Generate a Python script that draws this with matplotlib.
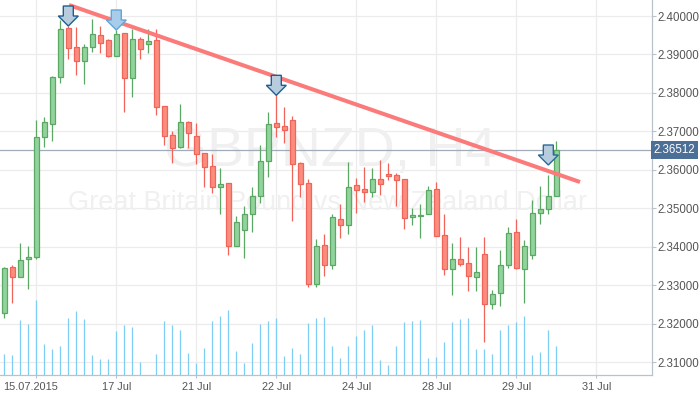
import matplotlib
matplotlib.use("Agg")
import matplotlib.pyplot as plt
import matplotlib.transforms as mtransforms
from matplotlib.patches import Rectangle, Polygon
import numpy as np

plt.rcParams['font.family'] = ['Liberation Sans', 'DejaVu Sans']

# ---------------- data ----------------
opens = [2.32274, 2.33469, 2.33225, 2.33677, 2.33729, 2.36848, 2.37186, 2.38423, 2.39680, 2.39202,
         2.38838, 2.39202, 2.39498, 2.39368, 2.38953, 2.39550, 2.38381, 2.39394, 2.39265, 2.39368,
         2.37653, 2.36900, 2.36588, 2.37238, 2.36874, 2.36432, 2.36094, 2.35548, 2.35652, 2.34015,
         2.34431, 2.34847, 2.35314, 2.36224, 2.37212, 2.37134, 2.37289, 2.36172, 2.35652, 2.33027,
         2.34041, 2.33521, 2.34717, 2.34561, 2.35600, 2.35496, 2.35418, 2.35756, 2.35886, 2.35860,
         2.35756, 2.34769, 2.34810, 2.34847, 2.35496, 2.34301, 2.33417, 2.33677, 2.33573, 2.33209,
         2.33807, 2.32508, 2.32794, 2.33521, 2.34379, 2.33417, 2.33781, 2.34873, 2.34977, 2.35314]
highs = [2.33485, 2.33521, 2.34093, 2.34023, 2.37297, 2.37383, 2.38441, 2.39896, 2.39740, 2.39722,
         2.39272, 2.39914, 2.39740, 2.39394, 2.39636, 2.39566, 2.39654, 2.39446, 2.39654, 2.39654,
         2.37653, 2.37004, 2.37705, 2.37279, 2.37212, 2.36432, 2.36406, 2.36042, 2.35652, 2.34795,
         2.35055, 2.35548, 2.36640, 2.37497, 2.38095, 2.37627, 2.37393, 2.36198, 2.35756, 2.34197,
         2.34327, 2.34847, 2.35107, 2.36198, 2.35782, 2.36068, 2.36042, 2.36250, 2.36172, 2.35912,
         2.35756, 2.35003, 2.35107, 2.35574, 2.35678, 2.34847, 2.34093, 2.34249, 2.33989, 2.33989,
         2.34249, 2.32872, 2.33919, 2.34509, 2.34717, 2.34171, 2.35211, 2.35574, 2.35860, 2.36744]
lows = [2.32144, 2.32549, 2.33209, 2.32898, 2.33677, 2.36603, 2.36759, 2.38267, 2.38890, 2.38475,
        2.38225, 2.39072, 2.39046, 2.38935, 2.38953, 2.37513, 2.37903, 2.38890, 2.39031, 2.37435,
        2.36648, 2.36188, 2.36562, 2.36562, 2.36162, 2.35564, 2.35408, 2.34847, 2.33797, 2.34015,
        2.33703, 2.34379, 2.35133, 2.35808, 2.36848, 2.36692, 2.34665, 2.35288, 2.32950, 2.32950,
        2.33235, 2.33417, 2.34223, 2.34327, 2.34873, 2.35159, 2.35288, 2.35340, 2.35730, 2.35055,
        2.34457, 2.34561, 2.34223, 2.34847, 2.34275, 2.33261, 2.32742, 2.33495, 2.32846, 2.32846,
        2.31536, 2.32378, 2.32456, 2.33443, 2.33417, 2.32534, 2.33677, 2.34587, 2.34847, 2.35314]
closes = [2.33443, 2.33225, 2.33659, 2.33729, 2.36848, 2.37253, 2.38423, 2.39654, 2.39176, 2.38838,
          2.39202, 2.39524, 2.39306, 2.38953, 2.39524, 2.38381, 2.39394, 2.39135, 2.39343, 2.37627,
          2.36874, 2.36562, 2.37238, 2.36952, 2.36406, 2.36068, 2.35548, 2.35626, 2.34015, 2.34639,
          2.34847, 2.35314, 2.36224, 2.37186, 2.37108, 2.37030, 2.36146, 2.35626, 2.33027, 2.34015,
          2.33521, 2.34769, 2.34561, 2.35548, 2.35470, 2.35418, 2.35756, 2.35626, 2.35834, 2.35730,
          2.34743, 2.34821, 2.34821, 2.35470, 2.34275, 2.33417, 2.33677, 2.33547, 2.33235, 2.33339,
          2.32508, 2.32768, 2.33521, 2.34353, 2.33443, 2.34015, 2.34873, 2.34977, 2.35314, 2.36512]
volumes = [21, 20, 55, 51, 75, 31, 26, 29, 57, 64,
           56, 20, 16, 16, 44, 50, 48, 13, 0, 21,
           54, 50, 45, 22, 12, 27, 54, 59, 65, 24,
           12, 32, 51, 54, 57, 19, 27, 21, 52, 57,
           58, 29, 17, 29, 39, 45, 50, 15, 10, 29,
           53, 54, 55, 17, 18, 33, 53, 56, 57, 26,
           26, 21, 45, 50, 53, 59, 20, 23, 45, 29]

x_tick_pos = [4, 14, 24, 34, 44, 54, 64, 74]
x_tick_labels = ['15.07.2015', '17 Jul', '21 Jul', '22 Jul', '24 Jul', '28 Jul', '29 Jul', '31 Jul']
y_ticks = [2.31, 2.32, 2.33, 2.34, 2.35, 2.36, 2.37, 2.38, 2.39, 2.40]
current_price = 2.36512

trend_x = [8.09, 71.96]
trend_y = [2.40286, 2.35686]

arrow_idx = [8, 14, 34, 68]
arrow_tip = [2.39740, 2.39636, 2.37939, 2.36128]

symbol_text = 'GBPNZD, H4'
desc_text = 'Great Britain Pound vs New Zealand Dollar'

# ---------------- figure ----------------
W, H = 700, 394
fig = plt.figure(figsize=(W / 100, H / 100), dpi=100)
ax = fig.add_axes([0, 19 / H, 652 / W, 375 / H])
ax.set_xlim(-0.5375, 80.96)
ax.set_ylim(2.30671, 2.404158)
ax.set_axisbelow(True)

ax.grid(True, color='#ececec', lw=0.9)
for s in ['left', 'top']:
    ax.spines[s].set_visible(False)
for s in ['right', 'bottom']:
    ax.spines[s].set_color('#b8c2cc')
    ax.spines[s].set_linewidth(0.9)

ax.yaxis.tick_right()
ax.set_yticks(y_ticks)
ax.set_yticklabels(['%.5f' % v for v in y_ticks])
ax.tick_params(axis='y', length=2.8, width=0.8, color='#b8c2cc', pad=1.2,
               labelsize=8.3, labelcolor='#555555')
ax.set_xticks(x_tick_pos)
ax.set_xticklabels(x_tick_labels)
ax.tick_params(axis='x', length=2.5, width=0.8, color='#b8c2cc', pad=2.2,
               labelsize=7.9, labelcolor='#555555')
first = ax.get_xticklabels()[0]
first.set_transform(first.get_transform() +
                    mtransforms.ScaledTranslation(-6 / 100, 0, fig.dpi_scale_trans))

# watermark
ax.text(0.506, 0.594, symbol_text, transform=ax.transAxes, ha='center', va='center',
        fontsize=40, color='#f0f0f0', zorder=0.6)
ax.text(0.502, 0.458, desc_text, transform=ax.transAxes, ha='center', va='center',
        fontsize=19.5, color='#f0f0f0', zorder=0.6)

# volume
idx = np.arange(len(opens))
vol_tr = mtransforms.blended_transform_factory(ax.transData, ax.transAxes)
ax.vlines(idx, 0, np.array(volumes) / 375.0, transform=vol_tr, color='#7ecdf4',
          lw=0.9, zorder=1)

# current price line
ax.axhline(current_price, color='#a0acb8', lw=0.9, zorder=1.5)

# candles
bw = 0.55
for i, (o, h, l, c) in enumerate(zip(opens, highs, lows, closes)):
    up = c >= o
    face = '#92d39d' if up else '#fc8d7e'
    edge = '#5aa864' if up else '#f0645a'
    ax.vlines(i, l, h, color=edge, lw=0.9, zorder=2)
    lo, hi = min(o, c), max(o, c)
    ax.add_patch(Rectangle((i - bw / 2, lo), bw, max(hi - lo, 0.00004),
                           facecolor=face, edgecolor=edge, lw=0.9, zorder=2.1))

# trend line
ax.plot(trend_x, trend_y, color='#fb7a7a', lw=2.9, solid_capstyle='butt', zorder=3)

# arrows (pixel shape anchored at data tip)
shape_px = [(-5, 20), (5, 20), (5, 10), (10, 10), (0, 0), (-10, 10), (-5, 10)]
styles = [('#b7cddd', '#1e5f93'), ('#a7cdea', '#62a6d8'),
          ('#b7cddd', '#1e5f93'), ('#b7cddd', '#2a6a9a')]
for (xi, tp), (fc, ec) in zip(zip(arrow_idx, arrow_tip), styles):
    tr = fig.dpi_scale_trans + mtransforms.ScaledTranslation(xi, tp, ax.transData)
    verts = [(px / 100, py / 100) for px, py in shape_px]
    ax.add_patch(Polygon(verts, closed=True, transform=tr, facecolor=fc,
                         edgecolor=ec, lw=1.0, zorder=4, clip_on=False))

# price label
ax.annotate('%.5f' % current_price, xy=(1.0, current_price),
            xycoords=('axes fraction', 'data'), xytext=(1.2, 0), textcoords='offset points',
            ha='left', va='center', fontsize=8.3, color='white', annotation_clip=False,
            bbox=dict(boxstyle='square,pad=0.27', facecolor='#4b6f97', edgecolor='none'),
            zorder=5)

fig.savefig('out.png', dpi=100)
